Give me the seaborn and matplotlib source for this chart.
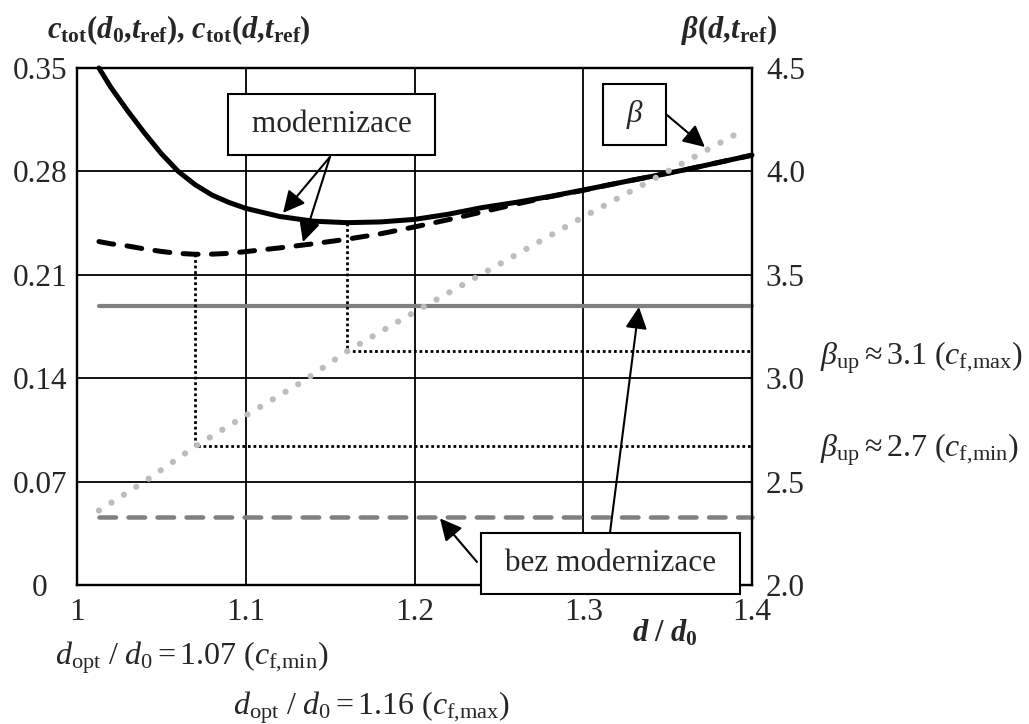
import matplotlib
matplotlib.use("Agg")
import matplotlib.pyplot as plt
import seaborn as sns

# ---------------- data ----------------
d_mod = [1.013, 1.02, 1.03, 1.04, 1.05, 1.06, 1.07, 1.08, 1.09, 1.10, 1.12, 1.14, 1.16,
         1.18, 1.20, 1.22, 1.24, 1.26, 1.28, 1.30, 1.32, 1.34, 1.36, 1.38, 1.40]
c_mod_max = [0.350, 0.337, 0.321, 0.306, 0.292, 0.280, 0.271, 0.264, 0.259, 0.255, 0.2495,
             0.2463, 0.2453, 0.2458, 0.2475, 0.251, 0.2555, 0.259, 0.263, 0.2674, 0.272,
             0.2765, 0.281, 0.286, 0.291]
c_mod_min = [0.2325, 0.231, 0.2295, 0.2275, 0.2258, 0.2245, 0.2239, 0.2240, 0.2245, 0.2257,
             0.2282, 0.2310, 0.2341, 0.2378, 0.2424, 0.2473, 0.2525, 0.2578, 0.2628, 0.2672,
             0.272, 0.2765, 0.281, 0.286, 0.291]

d_beta = [1.013, 1.04, 1.07, 1.10, 1.133, 1.16, 1.20, 1.25, 1.30, 1.35, 1.395]
beta = [2.36, 2.50, 2.67, 2.82, 2.98, 3.13, 3.32, 3.55, 3.78, 4.00, 4.20]

d_bez = [1.013, 1.40]
c_bez_max = [0.189, 0.189]
c_bez_min = [0.046, 0.046]

d_opt = [1.07, 1.16]          # c_f,min ; c_f,max
c_opt = [0.2239, 0.2453]
beta_up = [2.67, 3.13]

x_ticks = [1.0, 1.1, 1.2, 1.3, 1.4]
x_ticklabels = ["1", "1.1", "1.2", "1.3", "1.4"]
c_ticks = [0, 0.07, 0.14, 0.21, 0.28, 0.35]
c_ticklabels = ["0", "0.07", "0.14", "0.21", "0.28", "0.35"]
b_ticks = [2.0, 2.5, 3.0, 3.5, 4.0, 4.5]
b_ticklabels = ["2.0", "2.5", "3.0", "3.5", "4.0", "4.5"]

# ---------------- style ----------------
sns.set_style("white")
plt.rcParams["font.family"] = ["Liberation Serif", "DejaVu Serif"]
plt.rcParams["mathtext.fontset"] = "custom"
plt.rcParams["mathtext.rm"] = "Liberation Serif"
plt.rcParams["mathtext.it"] = "Liberation Serif:italic"
plt.rcParams["mathtext.bf"] = "Liberation Serif:bold"
plt.rcParams["mathtext.bfit"] = "Liberation Serif:italic:bold"
FS = 22.5
FS2 = 23

W, H = 1029, 724
fig = plt.figure(figsize=(W / 100, H / 100), dpi=100)
ax = fig.add_axes([77 / W, 1 - 585 / H, (752 - 77) / W, (585 - 68) / H])
ax2 = ax.twinx()

ax.set_xlim(1.0, 1.4)
ax.set_ylim(0, 0.35)
ax2.set_ylim(2.0, 4.5)

ax.set_axisbelow(True)
ax.grid(True, color="black", lw=1.3)
for a in (ax, ax2):
    for s in a.spines.values():
        s.set_color("black")
        s.set_linewidth(1.6)

# ---------------- lines ----------------
sns.lineplot(x=d_bez, y=c_bez_max, ax=ax, color="#808080", lw=3.0,
             solid_capstyle="round", clip_on=False, zorder=3)
sns.lineplot(x=d_bez, y=c_bez_min, ax=ax, color="#808080", lw=3.24,
             linestyle=(0, (3.67, 2.78)), dash_capstyle="round", clip_on=False, zorder=3)

# dotted guides (converted to beta scale on ax2)
def c_to_b(c):
    c0, c1 = ax.get_ylim()
    b0, b1 = ax2.get_ylim()
    return b0 + (c - c0) * (b1 - b0) / (c1 - c0)

for dx, cy, bu in zip(d_opt, c_opt, beta_up):
    sns.lineplot(x=[dx, dx, x_ticks[-1]], y=[c_to_b(cy), bu, bu], ax=ax2, color="black",
                 lw=2.0, linestyle=(0, (1, 1)), sort=False, estimator=None,
                 errorbar=None, zorder=2)

sns.lineplot(x=d_mod, y=c_mod_min, ax=ax, color="black", lw=3.6,
             linestyle=(0, (3, 2.67)), dash_capstyle="round", zorder=4)
sns.lineplot(x=d_mod, y=c_mod_max, ax=ax, color="black", lw=3.6,
             solid_capstyle="round", clip_on=False, zorder=5)

sns.lineplot(x=d_beta, y=beta, ax=ax2, color="#bdbdbd", lw=4.5,
             linestyle=(0, (0.01, 2.35)), dash_capstyle="round", clip_on=False, zorder=3)

# ---------------- ticks ----------------
ax.set_xticks(x_ticks)
ax.set_xticklabels(x_ticklabels, fontsize=FS)
ax.set_yticks(c_ticks)
ax.set_yticklabels(c_ticklabels, fontsize=FS)
ax2.set_yticks(b_ticks)
ax2.set_yticklabels(b_ticklabels, fontsize=FS)
ax.tick_params(axis="x", length=0, pad=9.5)
ax.tick_params(axis="y", length=0, pad=26.6)
ax2.tick_params(axis="y", length=0, pad=10)
for lab in ax.get_yticklabels():
    lab.set_horizontalalignment("center")
ax.set_xlabel("")
ax.set_ylabel("")
ax2.set_ylabel("")

# ---------------- annotations ----------------
box = dict(boxstyle="square,pad=0.5", fc="white", ec="black", lw=1.5)
arrow = dict(arrowstyle="-|>,head_length=0.6,head_width=0.3", color="black", lw=1.5,
             mutation_scale=22, shrinkA=0, shrinkB=0)
T = ax.transData

ax2.text(1.1508, 0.3118, " modernizace ", transform=T, fontsize=FS, ha="center",
         va="center", bbox=box, zorder=20)
ax2.text(1.3304, 0.3186, " β ", transform=T, fontsize=FS, style="italic", ha="center",
         va="center", bbox=box, zorder=20)
ax2.text(1.3161, 0.0146, " bez modernizace ", transform=T, fontsize=FS, ha="center",
         va="center", bbox=box, zorder=20, clip_on=False)

for start, tip in [((1.1499, 0.2898), (1.1221, 0.2519)),
                   ((1.1499, 0.2898), (1.1339, 0.2322)),
                   ((1.3496, 0.3182), (1.3721, 0.2965)),
                   ((1.3159, 0.0359), (1.3330, 0.1882)),
                   ((1.2370, 0.0156), (1.2151, 0.0451))]:
    ax2.annotate("", xy=tip, xytext=start, xycoords=T, textcoords=T,
                 arrowprops=arrow, zorder=19, annotation_clip=False)

def fx(px):
    return px / W

def fy(py):
    return 1 - py / H

fig.text(fx(47), fy(30),
         r"$\mathbfit{c}_{\mathbf{tot}}\mathbf{(}\mathbfit{d}_{\mathbf{0}}\mathbf{{,}}"
         r"\mathbfit{t}_{\mathbf{ref}}\mathbf{)}\mathbf{{,}}\ \mathbfit{c}_{\mathbf{tot}}\mathbf{(}"
         r"\mathbfit{d}\mathbf{{,}}\mathbfit{t}_{\mathbf{ref}}\mathbf{)}$",
         fontsize=22, ha="left", va="center")
fig.text(fx(729), fy(30),
         r"$\mathbfit{\beta}\mathbf{(}\mathbfit{d}\mathbf{{,}}\mathbfit{t}_{\mathbf{ref}}\mathbf{)}$",
         fontsize=22, ha="center", va="center")
fig.text(fx(665), fy(633),
         r"$\mathbfit{d}\ \mathbf{/}\ \mathbfit{d}_{\mathbf{0}}$",
         fontsize=22, ha="center", va="center")

fig.text(fx(820), fy(365),
         r"$\beta_{\mathrm{up}} \approx 3.1\ (c_{\mathrm{f{,}max}})$",
         fontsize=FS2, ha="left", va="baseline")
fig.text(fx(820), fy(457),
         r"$\beta_{\mathrm{up}} \approx 2.7\ (c_{\mathrm{f{,}min}})$",
         fontsize=FS2, ha="left", va="baseline")
fig.text(fx(55), fy(665),
         r"$d_{\mathrm{opt}}\ /\ d_0 = 1.07\ (c_{\mathrm{f{,}min}})$",
         fontsize=FS2, ha="left", va="baseline")
fig.text(fx(233), fy(714),
         r"$d_{\mathrm{opt}}\ /\ d_0 = 1.16\ (c_{\mathrm{f{,}max}})$",
         fontsize=FS2, ha="left", va="baseline")

fig.savefig("out.png", dpi=100)
